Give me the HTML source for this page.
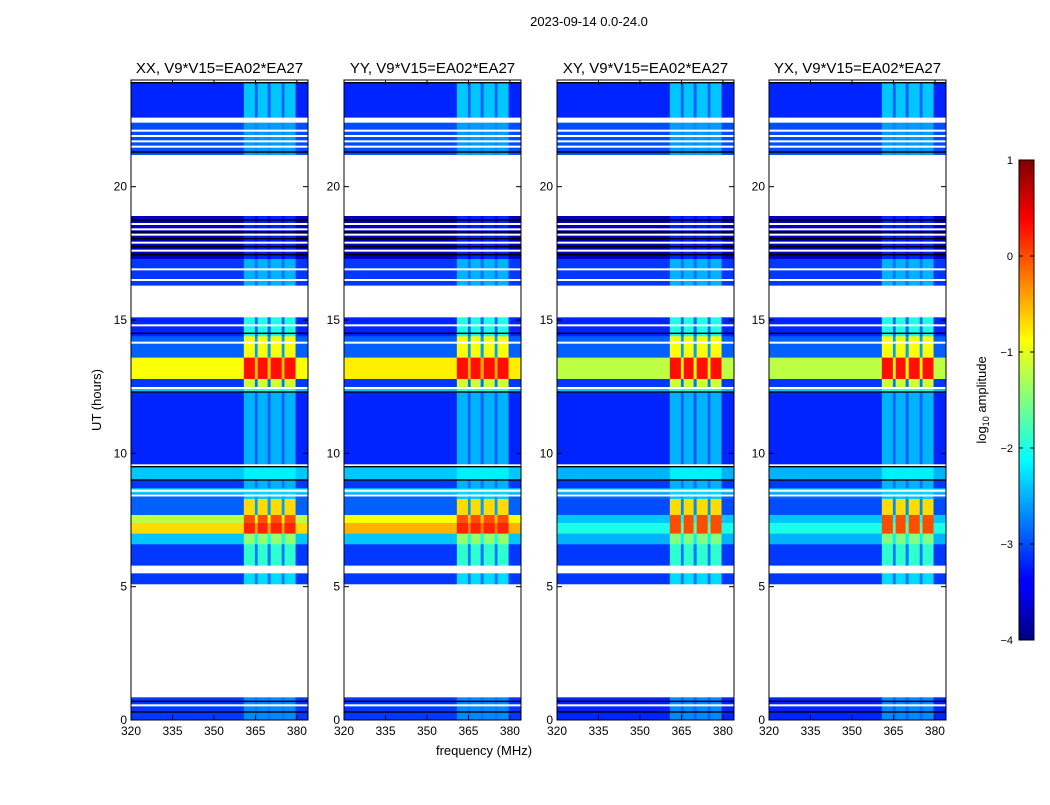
<!DOCTYPE html>
<html><head><meta charset="utf-8"><style>
body{margin:0;background:#fff;font-family:"Liberation Sans",sans-serif}
svg text{font-family:"Liberation Sans",sans-serif}
</style></head><body>
<svg id="fig" width="1050" height="800" xmlns="http://www.w3.org/2000/svg">
<text x="589" y="26" font-size="13" text-anchor="middle">2023-09-14 0.0-24.0</text>
<text transform="translate(101,400) rotate(-90)" font-size="13" text-anchor="middle">UT (hours)</text>
<text x="484" y="755" font-size="13" text-anchor="middle">frequency (MHz)</text>
<defs><linearGradient id="jet" x1="0" y1="1" x2="0" y2="0">
<stop offset="0" stop-color="#00007f"/><stop offset="0.11" stop-color="#0000ff"/><stop offset="0.125" stop-color="#0000ff"/><stop offset="0.375" stop-color="#00ffff"/><stop offset="0.625" stop-color="#ffff00"/><stop offset="0.875" stop-color="#ff0000"/><stop offset="1" stop-color="#7f0000"/></linearGradient></defs>
<g id="panels"></g>
<g id="cbar"></g>
</svg>
<script>
const panelTitles=["XX, V9*V15=EA02*EA27","YY, V9*V15=EA02*EA27","XY, V9*V15=EA02*EA27","YX, V9*V15=EA02*EA27"];
const panelLeft=[131,344,557,769];
const xTicks=[320,335,350,365,380];
const yTicks=[0,5,10,15,20];
const segStart=[0,0.85,5.1,5.5,5.8,6.6,7.0,7.4,7.7,8.3,8.5,8.7,9.0,9.5,12.3,12.5,12.8,13.6,14.4,15.1,16.3,17.3,18.9,21.2,22.4,22.6,23.9];
const segEnd  =[0.85,5.1,5.5,5.8,6.6,7.0,7.4,7.7,8.3,8.5,8.7,9.0,9.5,12.3,12.5,12.8,13.6,14.4,15.1,16.3,17.3,18.9,21.2,22.4,22.6,23.9,24];
const baseXX=[-3.1,null,-3.1,null,-3.1,-2.4,-0.7,-1.2,-2.9,-2.9,-2.3,-3.1,-2.4,-3.2,-2.4,-3.1,-0.9,-2.9,-3.2,null,-3.1,-3.7,null,-3.0,null,-3.2,null];
const rfiXX =[-2.7,null,-2.3,null,-1.9,-1.4,0.2,0.0,-0.7,-2.4,-2.3,-2.5,-2.2,-2.5,-1.9,-1.1,0.3,-0.9,-2.0,null,-2.5,-3.2,null,-2.6,null,-2.4,null];
const baseYY=[-3.1,null,-3.1,null,-3.1,-2.4,-0.5,-0.9,-2.9,-2.9,-2.3,-3.1,-2.4,-3.2,-2.4,-3.1,-0.8,-2.9,-3.2,null,-3.1,-3.7,null,-3.0,null,-3.2,null];
const rfiYY =[-2.7,null,-2.3,null,-1.9,-1.4,0.2,0.0,-0.7,-2.4,-2.3,-2.5,-2.2,-2.5,-1.9,-1.1,0.3,-0.9,-2.0,null,-2.5,-3.2,null,-2.6,null,-2.4,null];
const baseXY=[-3.2,null,-3.1,null,-3.1,-2.5,-2.0,-2.4,-3.0,-2.9,-2.4,-3.1,-2.5,-3.2,-2.4,-3.1,-1.2,-2.9,-3.2,null,-3.1,-3.7,null,-3.0,null,-3.2,null];
const rfiXY =[-2.7,null,-2.3,null,-1.9,-1.5,0.0,0.0,-0.7,-2.4,-2.3,-2.5,-2.2,-2.5,-1.9,-1.1,0.3,-0.9,-2.0,null,-2.5,-3.2,null,-2.6,null,-2.4,null];
const panelBase=[baseXX,baseYY,baseXY,baseXY];
const panelRfi=[rfiXX,rfiYY,rfiXY,rfiXY];
const rfiLo=[360.8,365.8,370.5,375.5];
const rfiHi=[364.8,369.4,374.5,379.5];
const whiteLines=[0.55,5.65,8.42,8.6,9.55,12.45,14.15,14.8,16.5,16.9,17.6,17.9,18.2,18.4,18.6,21.5,21.7,21.9,22.1];
const blackLines=[0.3,0.7,9.0,9.5,12.3,14.5,17.45,17.75,18.05,18.3,18.75,21.3,23.9];
const cbTicks=[-4,-3,-2,-1,0,1];

const NS="http://www.w3.org/2000/svg";
const top0=80,bot0=720,W=177,fmin=320,fmax=384,tmax=24;
function yS(t){return bot0-(t/tmax)*(bot0-top0);}
function jet(v){let x=(v+4)/5;x=Math.max(0,Math.min(1,x));
 const r=Math.max(0,Math.min(1,1.5-Math.abs(4*x-3))),g=Math.max(0,Math.min(1,1.5-Math.abs(4*x-2))),b=Math.max(0,Math.min(1,1.5-Math.abs(4*x-1)));
 return `rgb(${Math.round(r*255)},${Math.round(g*255)},${Math.round(b*255)})`;}
function mk(tag,attrs,parent){const e=document.createElementNS(NS,tag);for(const k in attrs)e.setAttribute(k,attrs[k]);parent.appendChild(e);return e;}
const G=document.getElementById('panels');
panelLeft.forEach((L,p)=>{
 const xS=f=>L+(f-fmin)/(fmax-fmin)*W;
 const g=mk('g',{},G);
 
 
 const bands=[[fmin,rfiLo[0],'b']];
 for(let i=0;i<rfiLo.length;i++){bands.push([rfiLo[i],rfiHi[i],'r']);bands.push([rfiHi[i],i<rfiLo.length-1?rfiLo[i+1]:fmax,i<rfiLo.length-1?'g':'b']);}
 for(let s=0;s<segStart.length;s++){
  const b=panelBase[p][s],r=panelRfi[p][s];
  if(b===null)continue;
  const y1=yS(segEnd[s]),y2=yS(segStart[s]);
  bands.forEach(([f0,f1,k])=>{
   const v=k==='b'?b:(k==='r'?r:Math.min(r,b+0.3));
   const c=mk('rect',{x:xS(f0),y:y1,width:xS(f1)-xS(f0)+0.3,height:y2-y1+0.3,fill:jet(v)},g);
   
   
  });
 }
 whiteLines.forEach(t=>{const l=mk('rect',{x:L,y:yS(t)-1,width:W,height:2,fill:'#fff'},g);
  
  });
 blackLines.forEach(t=>{const l=mk('rect',{x:L,y:yS(t)-0.7,width:W,height:1.4,fill:'#000'},g);
  
  });
 const fr=mk('rect',{x:L,y:top0,width:W,height:bot0-top0,fill:'none',stroke:'#000','stroke-width':1},g);
 
 
 const tt=mk('text',{x:L+W/2,y:73,'font-size':15,'text-anchor':'middle'},g);tt.textContent=panelTitles[p];
 
 
 xTicks.forEach(f=>{const x=xS(f);
  mk('line',{x1:x,x2:x,y1:bot0,y2:bot0-5,stroke:'#000'},g);mk('line',{x1:x,x2:x,y1:top0,y2:top0+5,stroke:'#000'},g);
  const t=mk('text',{x:x,y:bot0+15,'font-size':12,'text-anchor':'middle'},g);t.textContent=f;
  
  });
 yTicks.forEach(v=>{const y=yS(v);
  mk('line',{x1:L,x2:L+5,y1:y,y2:y,stroke:'#000'},g);mk('line',{x1:L+W,x2:L+W-5,y1:y,y2:y,stroke:'#000'},g);
  const t=mk('text',{x:L-4,y:y+4,'font-size':12,'text-anchor':'end'},g);t.textContent=v;
  
  });
});
const C=document.getElementById('cbar');
const cbTop=160,cbBot=640,cbX=1019,cbW=15;
const cbY=v=>cbBot-(v+4)/5*(cbBot-cbTop);
mk('rect',{x:cbX,y:cbTop,width:cbW,height:cbBot-cbTop,fill:'url(#jet)',stroke:'#000'},C);
cbTicks.forEach(v=>{const y=cbY(v);
 mk('line',{x1:cbX,x2:cbX+4,y1:y,y2:y,stroke:'#000'},C);mk('line',{x1:cbX+cbW,x2:cbX+cbW-4,y1:y,y2:y,stroke:'#000'},C);
 const t=mk('text',{x:1013,y:y+4,'font-size':11,'text-anchor':'end'},C);t.textContent=v<0?'\u2212'+(-v):v;
 
 });
const ct=mk('text',{transform:'translate(986,400) rotate(-90)','font-size':13,'text-anchor':'middle'},C);
ct.innerHTML='log<tspan font-size="9" dy="3">10</tspan><tspan dy="-3"> amplitude</tspan>';


</script>
</body></html>
